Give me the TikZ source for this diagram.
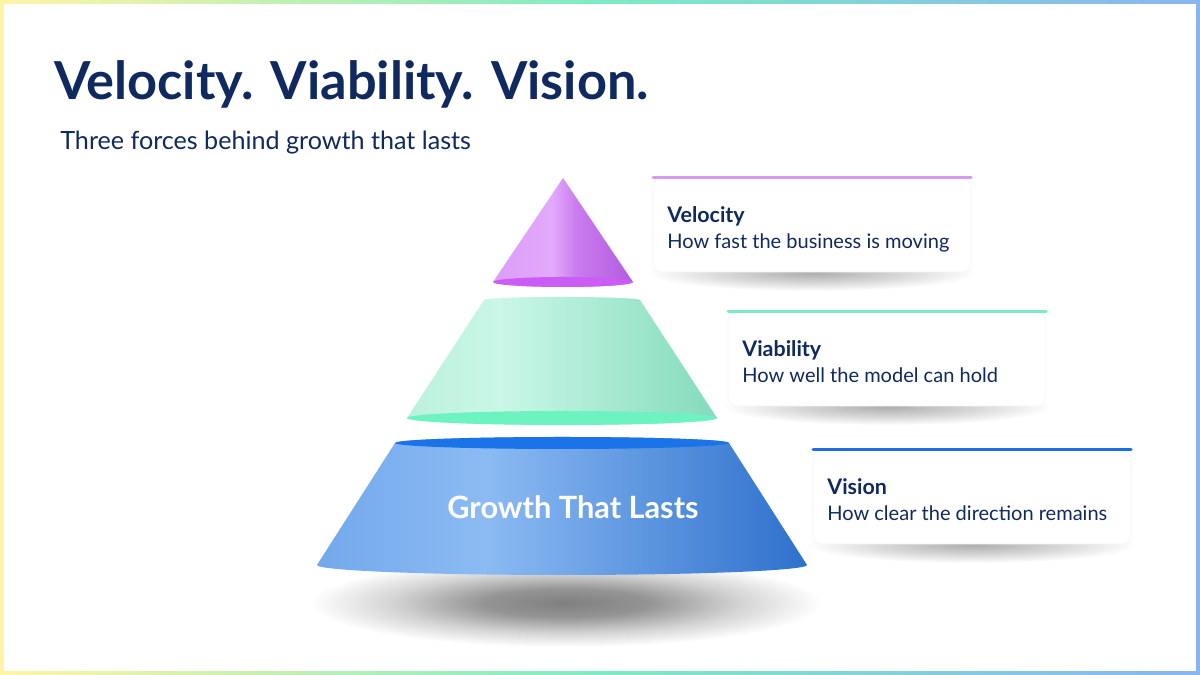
\documentclass[tikz,border=0pt]{standalone}
\usepackage{fontspec}
\setmainfont{Lato}

\definecolor{navy}{HTML}{10295E}
\definecolor{lineVel}{HTML}{D59BF2}
\definecolor{lineVia}{HTML}{7CEBC5}
\definecolor{lineVis}{HTML}{1C6FE0}
\definecolor{baseVel}{HTML}{CC5CF6}
\definecolor{baseVia}{HTML}{6DF2C1}
\definecolor{topVis}{HTML}{1A73E8}
\definecolor{frameYel}{HTML}{FFF4A6}
\definecolor{frameMint}{HTML}{7DEBC3}
\definecolor{frameBlue}{HTML}{89B4F1}
\definecolor{velA}{HTML}{DC9EF8}
\definecolor{velB}{HTML}{E3A9FC}
\definecolor{velC}{HTML}{C97BEE}
\definecolor{velD}{HTML}{B45BE1}
\definecolor{viaA}{HTML}{BBF1DC}
\definecolor{viaB}{HTML}{CAF7E7}
\definecolor{viaC}{HTML}{84DBBC}
\definecolor{visA}{HTML}{72A8EC}
\definecolor{visB}{HTML}{8CBBF3}
\definecolor{visC}{HTML}{2E70CC}

\pgfdeclarehorizontalshading{frameshade}{100bp}{color(0bp)=(frameYel); color(25bp)=(frameYel);
  color(50bp)=(frameMint); color(75bp)=(frameBlue); color(100bp)=(frameBlue)}
\pgfdeclarehorizontalshading{velshade}{100bp}{color(0bp)=(velA); color(25bp)=(velA);
  color(46bp)=(velB); color(55bp)=(velC); color(75bp)=(velD); color(100bp)=(velD)}
\pgfdeclarehorizontalshading{viashade}{100bp}{color(0bp)=(viaA); color(25bp)=(viaA);
  color(40bp)=(viaB); color(75bp)=(viaC); color(100bp)=(viaC)}
\pgfdeclarehorizontalshading{visshade}{100bp}{color(0bp)=(visA); color(25bp)=(visA);
  color(42bp)=(visB); color(75bp)=(visC); color(100bp)=(visC)}
\pgfdeclareradialshading{floorshade}{\pgfpoint{0bp}{0bp}}{color(0bp)=(black!50); color(8bp)=(black!42);
  color(17bp)=(black!17); color(25bp)=(white); color(50bp)=(white)}
\pgfdeclareradialshading{cardshade}{\pgfpoint{0bp}{0bp}}{color(0bp)=(black!32); color(14bp)=(black!15);
  color(25bp)=(white); color(50bp)=(white)}

\tikzset{
	plaintext/.style={anchor=base west, inner sep=0pt, navy},
	cardbox/.style={fill=white, draw=black!4, rounded corners=5pt},
	cardhead/.style={plaintext, font=\fontsize{12.2}{14}\selectfont\bfseries},
	carddesc/.style={plaintext, font=\fontsize{11.4}{14}\selectfont}
}

\begin{document}
\begin{tikzpicture}[x=0.02cm, y=0.02cm]
	\useasboundingbox (0,0) rectangle (1200,675);
	% frame
	\shade[shading=frameshade] (0,0) rectangle (1200,675);
	\fill[white] (4,4) rectangle (1196,671);

	\node[plaintext, font=\fontsize{29.8}{34}\selectfont\bfseries] (title) at (54,575) {Velocity. Viability. Vision.};
	\node[plaintext, font=\fontsize{14.3}{17}\selectfont] (subtitle) at (60,525) {Three forces behind growth that lasts};

	% shadow under the pyramid
	\shade[shading=floorshade] (566,72) ellipse [x radius=256, y radius=44];

	% bottom tier
	\shade[shading=visshade] (317,110) -- (395,232) arc[start angle=180, end angle=0, x radius=167, y radius=6]
		-- (807,110) arc[start angle=0, end angle=-180, x radius=245, y radius=10] -- cycle;
	\fill[topVis] (562,232) ellipse [x radius=167, y radius=6];
	\node[white, font=\fontsize{17.5}{20}\selectfont\bfseries] (base) at (573,168) {Growth That Lasts};

	% middle tier
	\shade[shading=viashade] (407,257) -- (484,375) arc[start angle=180, end angle=0, x radius=78, y radius=3]
		-- (717,257) arc[start angle=0, end angle=-180, x radius=155, y radius=7] -- cycle;
	\fill[baseVia] (562,257) ellipse [x radius=155, y radius=7];

	% top tier
	\shade[shading=velshade] (493,393) -- (563,497) -- (633,393)
		arc[start angle=0, end angle=-180, x radius=70, y radius=5] -- cycle;
	\fill[baseVel] (563,393) ellipse [x radius=70, y radius=5];

	% cards
	\foreach \n/\xl/\yt/\col/\head/\desc in {1/653/497/lineVel/Velocity/How fast the business is moving,
		2/728/363/lineVia/Viability/How well the model can hold,
		3/813/225/lineVis/Vision/How clear the direction remains}
	{
		\shade[shading=cardshade] (\xl+159,\yt-95) ellipse [x radius=165, y radius=18];
		\draw[cardbox] (\xl,\yt-94) rectangle (\xl+318,\yt);
		\draw[\col, line width=1.7pt, line cap=round] (\xl,\yt) -- (\xl+318,\yt);
		\node[cardhead] (head\n) at (\xl+14,\yt-45) {\head};
		\node[carddesc] (desc\n) at (\xl+14,\yt-71) {\desc};
	}
\end{tikzpicture}
\end{document}
